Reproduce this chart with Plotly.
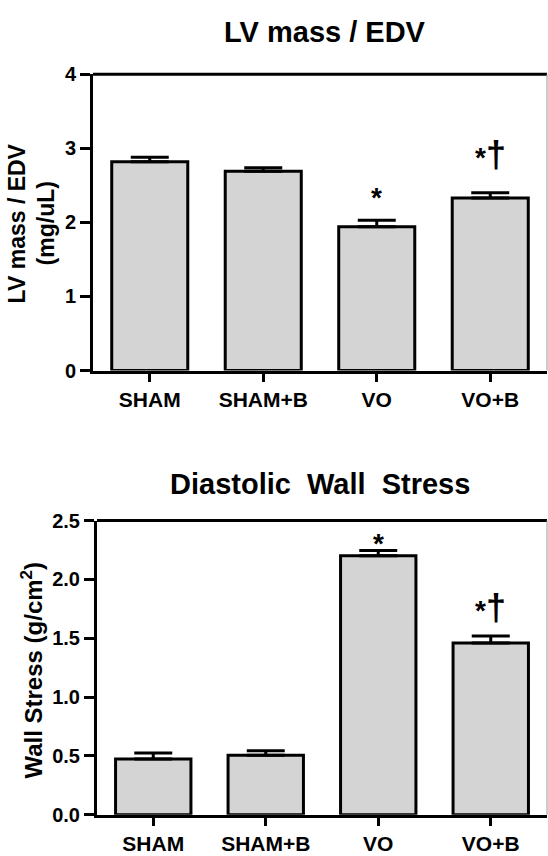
import plotly.graph_objects as go

categories = ["SHAM", "SHAM+B", "VO", "VO+B"]
lv_mass_edv = [2.82, 2.69, 1.94, 2.33]
lv_mass_edv_sem = [0.06, 0.05, 0.09, 0.07]
wall_stress = [0.475, 0.505, 2.20, 1.46]
wall_stress_sem = [0.05, 0.04, 0.045, 0.06]
lv_marks = ["", "", "*", "*†"]
ws_marks = ["", "", "*", "*†"]
lv_ticks = [0, 1, 2, 3, 4]
ws_ticks = [0.0, 0.5, 1.0, 1.5, 2.0, 2.5]

W, H = 548, 856
FONT = "Arial, Liberation Sans, sans-serif"
BAR_FILL = "#d4d4d4"

def px_x(p):
    return p / W

def px_y(p):
    return 1 - p / H

fig = go.Figure()

def add_bars(vals, errs, xa, ya):
    fig.add_trace(go.Bar(
        x=categories, y=vals, xaxis=xa, yaxis=ya, width=0.67,
        marker=dict(color=BAR_FILL, line=dict(color="black", width=3)),
        error_y=dict(type="data", symmetric=False, array=errs,
                     arrayminus=[0] * len(errs), color="black",
                     thickness=3, width=19),
        showlegend=False, hoverinfo="skip"))

add_bars(lv_mass_edv, lv_mass_edv_sem, "x", "y")
add_bars(wall_stress, wall_stress_sem, "x2", "y2")

ytickfont = dict(family=FONT, size=20, color="black", weight="bold")
xtickfont = dict(family=FONT, size=21, color="black", weight="bold")
axis_common = dict(showline=True, linewidth=3, linecolor="black",
                   ticks="outside", tickwidth=3, tickcolor="black",
                   showgrid=False, zeroline=False)

fig.update_layout(
    width=W, height=H, autosize=False,
    margin=dict(l=0, r=0, t=0, b=0),
    paper_bgcolor="white", plot_bgcolor="white",
    bargap=0.33,
    xaxis=dict(domain=[px_x(93), px_x(547)], anchor="y", ticklen=8,
               range=[-0.5, 3.5], tickfont=xtickfont, **axis_common),
    yaxis=dict(domain=[px_y(369), px_y(65)], anchor="x", ticklen=10,
               range=[0, 4], tickvals=lv_ticks, tickfont=ytickfont,
               ticktext=[str(t) for t in lv_ticks], **axis_common),
    xaxis2=dict(domain=[px_x(97), px_x(547)], anchor="y2", ticklen=8,
                range=[-0.5, 3.5], tickfont=xtickfont, **axis_common),
    yaxis2=dict(domain=[px_y(825), px_y(523)], anchor="x2", ticklen=10,
                range=[0, 2.5], tickvals=ws_ticks, tickfont=ytickfont,
                ticktext=[f"{t:.1f}" for t in ws_ticks], **axis_common),
)

# frame: thick top edge, thin right edge
for xr, yr in (("x", "y"), ("x2", "y2")):
    fig.add_shape(type="line", xref=f"{xr} domain", yref=f"{yr} domain",
                  x0=0, x1=1, y0=1, y1=1, line=dict(color="black", width=3))
    fig.add_shape(type="line", xref=f"{xr} domain", yref=f"{yr} domain",
                  x0=1, x1=1, y0=0, y1=1, line=dict(color="#999999", width=1))

title_font = dict(family=FONT, size=29, color="black", weight="bold")
fig.add_annotation(text="LV mass / EDV", xref="paper", yref="paper",
                   x=px_x(325), y=px_y(22), showarrow=False,
                   xanchor="center", yanchor="middle", font=title_font)
fig.add_annotation(text="Diastolic\u00a0 Wall\u00a0 Stress", xref="paper", yref="paper",
                   x=px_x(320), y=px_y(485), showarrow=False,
                   xanchor="center", yanchor="middle", font=title_font)

ytitle_font = dict(family=FONT, size=23, color="black", weight="bold")
fig.add_annotation(text="LV mass / EDV", xref="paper", yref="paper",
                   x=px_x(17), y=px_y(218), textangle=-90, showarrow=False,
                   xanchor="center", yanchor="middle", font=ytitle_font)
fig.add_annotation(text="(mg/uL)", xref="paper", yref="paper",
                   x=px_x(46), y=px_y(218), textangle=-90, showarrow=False,
                   xanchor="center", yanchor="middle", font=ytitle_font)
fig.add_annotation(text="Wall Stress (g/cm<sup>2</sup>)", xref="paper", yref="paper",
                   x=px_x(32), y=px_y(677), textangle=-90, showarrow=False,
                   xanchor="center", yanchor="middle",
                   font=dict(family=FONT, size=24, color="black", weight="bold"))

mark_font = dict(family=FONT, size=28, color="black", weight="bold")
dagger = "<span style='font-size:36px'>†</span>"
lv_shift = [0, 0, 5, 16]
ws_shift = [0, 0, -10, 6]
for i, c in enumerate(categories):
    if lv_marks[i]:
        fig.add_annotation(text=lv_marks[i].replace("†", dagger), x=c,
                           y=lv_mass_edv[i] + lv_mass_edv_sem[i],
                           xref="x", yref="y", showarrow=False, yanchor="bottom",
                           yshift=lv_shift[i], font=mark_font)
    if ws_marks[i]:
        fig.add_annotation(text=ws_marks[i].replace("†", dagger), x=c,
                           y=wall_stress[i] + wall_stress_sem[i],
                           xref="x2", yref="y2", showarrow=False, yanchor="bottom",
                           yshift=ws_shift[i], font=mark_font)

fig.write_html("out.html")
